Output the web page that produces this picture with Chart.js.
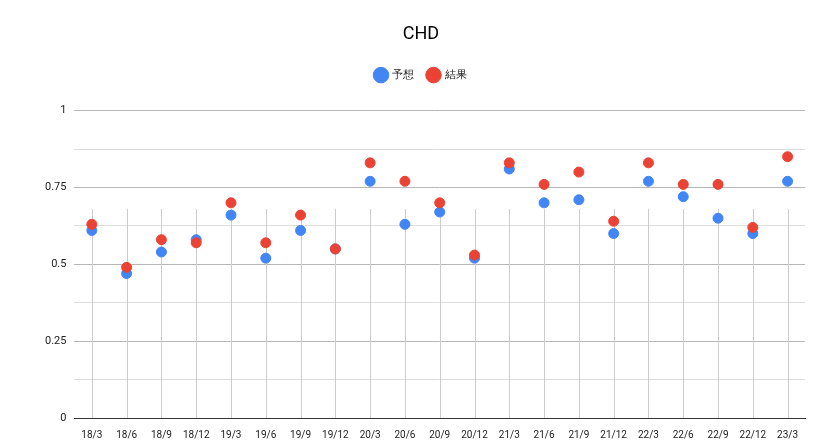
<!DOCTYPE html>
<html><head><meta charset="utf-8">
<script src="https://cdn.jsdelivr.net/npm/chart.js@4"></script>
<style>body{margin:0;background:#fff}#wrap{width:832px;height:444px}</style>
</head><body><div id="wrap"><canvas id="c"></canvas></div>
<script>
const labels = ["18/3","18/6","18/9","18/12","19/3","19/6","19/9","19/12","20/3","20/6","20/9","20/12","21/3","21/6","21/9","21/12","22/3","22/6","22/9","22/12","23/3"];
const forecast = [0.61,0.47,0.54,0.58,0.66,0.52,0.61,0.55,0.77,0.63,0.67,0.52,0.81,0.70,0.71,0.60,0.77,0.72,0.65,0.60,0.77];
const result = [0.63,0.49,0.58,0.57,0.70,0.57,0.66,0.55,0.83,0.77,0.70,0.53,0.83,0.76,0.80,0.64,0.83,0.76,0.76,0.62,0.85];

// vertical lines that stop partway up, as in the original
const stubGrid = {
    id:"stubGrid",
    beforeDatasetsDraw(chart){
        const ctx = chart.ctx, x = chart.scales.x, y = chart.scales.y;
        ctx.save();
        ctx.strokeStyle = "#cccccc";
        ctx.lineWidth = 1;
        labels.forEach((l,i)=>{
            const px = Math.round(x.getPixelForValue(i))+0.5;
            ctx.beginPath();
            ctx.moveTo(px, y.getPixelForValue(0));
            ctx.lineTo(px, y.getPixelForValue(0.68));
            ctx.stroke();
        });
        ctx.restore();
    }
};

// extra room under the legend
const legendGap = {
    id:"legendGap",
    beforeInit(chart){
        const fit = chart.legend.fit;
        chart.legend.fit = function(){ fit.bind(chart.legend)(); this.height += 20; };
    }
};

new Chart(document.getElementById("c"),{
    type:"line",
    data:{
        labels:labels,
        datasets:[
            {label:"予想", data:forecast, showLine:false, backgroundColor:"#4285f4", borderColor:"#4285f4", pointRadius:5, pointHoverRadius:5, order:1},
            {label:"結果", data:result, showLine:false, backgroundColor:"#ea4335", borderColor:"#ea4335", pointRadius:5, pointHoverRadius:5, order:0}
        ]
    },
    options:{
        responsive:true, maintainAspectRatio:false, animation:false,
        layout:{padding:{left:37,right:27,top:12,bottom:0}},
        plugins:{
            title:{display:true, text:"CHD", color:"#000", font:{family:"Roboto", size:18, weight:"normal"}, padding:{top:12,bottom:10}},
            legend:{labels:{usePointStyle:true, pointStyle:"circle", boxWidth:12, boxHeight:12, color:"#222", font:{family:"Roboto", size:11}, padding:14,
                            sort:(a,b)=>a.datasetIndex-b.datasetIndex}},
            tooltip:{enabled:false}
        },
        scales:{
            x:{offset:true, grid:{display:false}, border:{color:"#333"},
               ticks:{color:"#222", font:{family:"Roboto", size:10}, maxRotation:0, autoSkip:false}},
            y:{min:0, max:1, border:{display:false},
               grid:{color:ctx => (ctx.tick.value*4)%1===0 ? "#b7b7b7" : "#dddddd", drawTicks:false},
               ticks:{stepSize:0.125, color:"#222", font:{family:"Roboto", size:11}, padding:8,
                      callback:v => (v*4)%1===0 ? String(v) : ""}}
        }
    },
    plugins:[stubGrid, legendGap]
});
</script></body></html>
